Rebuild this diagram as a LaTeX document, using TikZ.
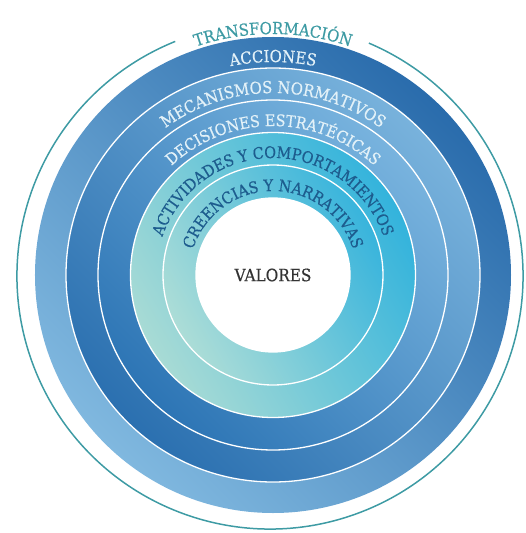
\documentclass[tikz,border=0pt]{standalone}
\usepackage{fontspec}
\newfontfamily\slabfont{DejaVu Serif Condensed}[FakeBold=0.5]
\usetikzlibrary{decorations.text}

\definecolor{accdark}{HTML}{2A6CAC}
\definecolor{acclight}{HTML}{80B8DF}
\definecolor{mecdark}{HTML}{2B70B0}
\definecolor{meclight}{HTML}{78B2DC}
\definecolor{decdark}{HTML}{2D75B5}
\definecolor{declight}{HTML}{78B3DE}
\definecolor{actcyan}{HTML}{33B3DC}
\definecolor{actpale}{HTML}{A8DBD5}
\definecolor{crecyan}{HTML}{38B4DC}
\definecolor{crepale}{HTML}{ACDDD7}
\definecolor{lighttext}{HTML}{E2F1F8}
\definecolor{darktext}{HTML}{1D5C8E}
\definecolor{transteal}{HTML}{3E9BA4}
\definecolor{valtext}{HTML}{333333}

\newcommand\bandfont{\slabfont\fontsize{16pt}{16pt}\selectfont}

\tikzset{
  sepline/.style={draw=white, line width=1.3pt},
  outerline/.style={draw=transteal, line width=1.5pt},
  ringtext/.style={decorate, decoration={text along path, text align=center, text color=#1}}
}

\begin{document}
\begin{tikzpicture}
  \useasboundingbox (-273pt,-258pt) rectangle (252pt,275pt);
  \coordinate (c) at (0,0);
  \coordinate (t) at (-3pt,-1pt);

  % rings, from the outside in
  \shade[top color=accdark, bottom color=acclight, shading angle=-45] (c) circle (238pt);
  \shade[top color=meclight, bottom color=mecdark, shading angle=-45] (c) circle (207pt);
  \shade[top color=declight, bottom color=decdark, shading angle=-45] (c) circle (175pt);
  \shade[top color=actcyan, bottom color=actpale, shading angle=-60] (c) circle (142.5pt);
  \shade[top color=crecyan, bottom color=crepale, shading angle=-60] (c) circle (110pt);
  \fill[white] (c) circle (77pt);
  \foreach \r in {207pt,175pt,142.5pt,110pt,77pt}
    \draw[sepline] (c) circle (\r);

  \draw[outerline] (t) ++(112:253pt) arc (112:427:253pt);

  \path[ringtext=transteal, decoration={text={|\slabfont\fontsize{16.5pt}{16.5pt}\selectfont|TRANSFORMACIÓN}}]
    (c) ++(180:241pt) arc (180:0:241pt);
  \path[ringtext=lighttext, decoration={text={|\slabfont\fontsize{16.5pt}{16.5pt}\selectfont|ACCIONES}}]
    (c) ++(180:213pt) arc (180:0:213pt);
  \path[ringtext=lighttext, decoration={text={|\slabfont\fontsize{16.5pt}{16.5pt}\selectfont|MECANISMOS NORMATIVOS}}]
    (c) ++(180:182pt) arc (180:0:182pt);
  \path[ringtext=lighttext, decoration={text={|\bandfont|DECISIONES ESTRATÉGICAS}}]
    (c) ++(180:149pt) arc (180:0:149pt);
  \path[ringtext=darktext, decoration={text={|\bandfont|ACTIVIDADES Y COMPORTAMIENTOS}}]
    (c) ++(180:117pt) arc (180:0:117pt);
  \path[ringtext=darktext, decoration={text={|\bandfont|CREENCIAS Y NARRATIVAS}}]
    (c) ++(180:84pt) arc (180:0:84pt);

  \node[font=\slabfont\fontsize{17pt}{17pt}\selectfont, text=valtext] (valores) at (c) {VALORES};
\end{tikzpicture}
\end{document}
